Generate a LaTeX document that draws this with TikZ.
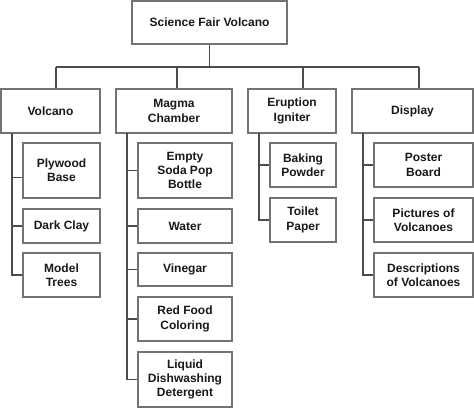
\documentclass[tikz,border=0pt]{standalone}
\usepackage{fontspec}
\setmainfont{Liberation Sans}
\begin{document}
\begin{tikzpicture}[x=0.75pt,y=-0.75pt,
  box/.style={draw=black!55, line width=1.1pt, fill=white, align=center, inner sep=0pt,
    text=black!90, font=\bfseries\fontsize{9}{10.7}\selectfont},
  sz/.style 2 args={minimum width=#1*0.75pt, minimum height=#2*0.75pt},
  link/.style={draw=black!70, line width=0.8pt}]
\useasboundingbox (0,0) rectangle (474,408);
% top
\node[box, sz={155}{43}] (top) at (209.5,22.5) {Science Fair Volcano};
% level 1
\node[box, sz={99}{44}]  (vol) at (50.5,111) {Volcano};
\node[box, sz={116}{44}] (mag) at (174,111) {Magma\\Chamber};
\node[box, sz={88}{44}]  (eru) at (292,111) {Eruption\\Igniter};
\node[box, sz={121}{44}] (dis) at (412.5,111) {Display};
% bus
\coordinate (s1) at (56,67);
\coordinate (s2) at (177,67);
\coordinate (s3) at (303,67);
\coordinate (s4) at (419,67);
\draw[link] (top.south) -- (top.south |- s1);
\draw[link] (s1) -- (s4);
\draw[link] (s1) -- (s1 |- vol.north);
\draw[link] (s2) -- (s2 |- mag.north);
\draw[link] (s3) -- (s3 |- eru.north);
\draw[link] (s4) -- (s4 |- dis.north);
% Volcano children
\node[box, sz={77}{55}] (ply) at (61.5,170.5) {Plywood\\Base};
\node[box, sz={77}{34}] (clay) at (61.5,226) {Dark Clay};
\node[box, sz={77}{44}] (trees) at (61.5,275) {Model\\Trees};
% Magma children
\node[box, sz={94}{55}] (soda) at (185,170.5) {Empty\\Soda Pop\\Bottle};
\node[box, sz={94}{34}] (water) at (185,226) {Water};
\node[box, sz={94}{33}] (vin) at (185,269.5) {Vinegar};
\node[box, sz={94}{44}] (red) at (185,319) {Red Food\\Coloring};
\node[box, sz={94}{55}] (liq) at (185,379.5) {Liquid\\Dishwashing\\Detergent};
% Eruption children
\node[box, sz={66}{44}] (bak) at (303,165) {Baking\\Powder};
\node[box, sz={66}{44}] (toi) at (303,220) {Toilet\\Paper};
% Display children
\node[box, sz={99}{44}] (pos) at (423.5,165) {Poster\\Board};
\node[box, sz={99}{44}] (pic) at (423.5,220) {Pictures of\\Volcanoes};
\node[box, sz={99}{44}] (des) at (423.5,275) {Descriptions\\of Volcanoes};
% spines
\coordinate (vs) at (12,133);
\coordinate (ms) at (127,133);
\coordinate (es) at (259,133);
\coordinate (ds) at (363,133);
\coordinate (plyin) at ([yshift=-4.9pt]ply.west);
\draw[link] (vs) -- (vs |- trees.west) -- (trees.west);
\draw[link] (vs |- plyin) -- (plyin);
\draw[link] (vs |- clay.west) -- (clay.west);
\draw[link] (ms) -- (ms |- liq.west) -- (liq.west);
\draw[link] (ms |- soda.west) -- (soda.west);
\draw[link] (ms |- water.west) -- (water.west);
\draw[link] (ms |- vin.west) -- (vin.west);
\draw[link] (ms |- red.west) -- (red.west);
\draw[link] (es) -- (es |- toi.west) -- (toi.west);
\draw[link] (es |- bak.west) -- (bak.west);
\draw[link] (ds) -- (ds |- des.west) -- (des.west);
\draw[link] (ds |- pos.west) -- (pos.west);
\draw[link] (ds |- pic.west) -- (pic.west);
\end{tikzpicture}
\end{document}
